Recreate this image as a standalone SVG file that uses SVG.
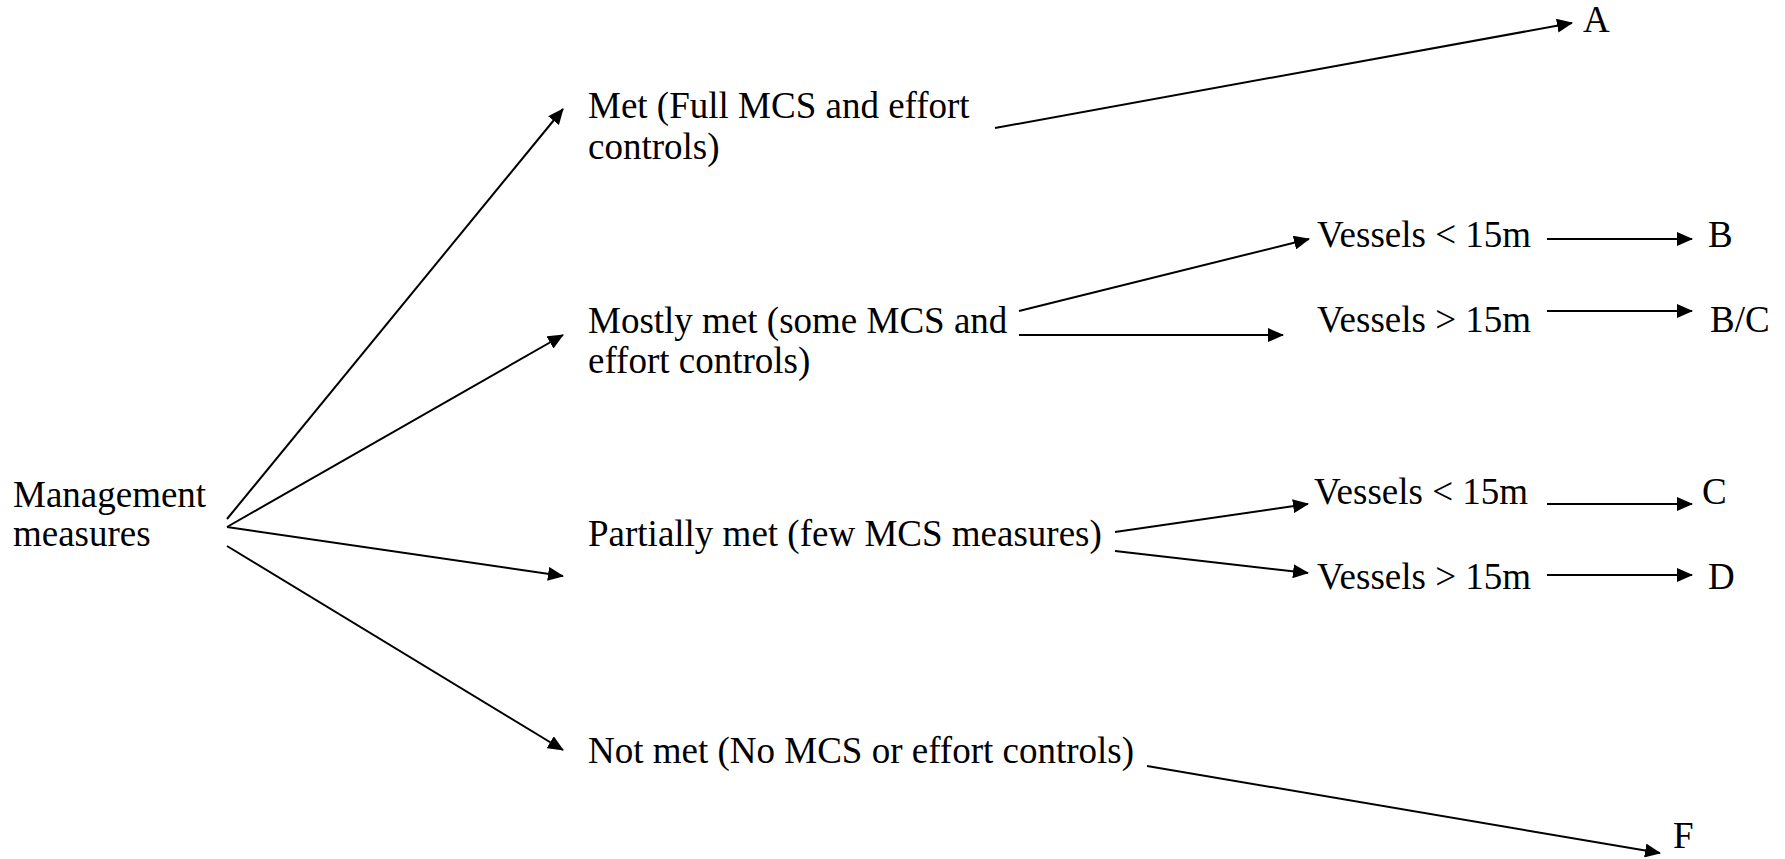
<svg xmlns="http://www.w3.org/2000/svg" width="1785" height="859" viewBox="0 0 1785 859">
<style>
.c line{stroke:#000;stroke-width:2;fill:none}
.a{marker-end:url(#ah)}
</style>
<defs>
<marker id="ah" markerUnits="userSpaceOnUse" markerWidth="16" markerHeight="14" refX="15" refY="7" orient="auto">
<path d="M0,0 L16,7 L0,14 z" fill="#000"/>
</marker>
</defs>
<rect width="1785" height="859" fill="#fff"/>
<g class="c" id="connectors">
<line class="a" x1="227" y1="519" x2="563" y2="109"/>
<line class="a" x1="227" y1="527" x2="563" y2="335"/>
<line class="a" x1="227" y1="527" x2="563" y2="576"/>
<line class="a" x1="227" y1="546" x2="563" y2="750"/>
<line class="a" x1="995" y1="128" x2="1572" y2="23"/>
<line class="a" x1="1019" y1="311" x2="1309" y2="239"/>
<line class="a" x1="1019" y1="335" x2="1283" y2="335"/>
<line class="a" x1="1547" y1="239" x2="1692" y2="239"/>
<line class="a" x1="1547" y1="311" x2="1692" y2="311"/>
<line class="a" x1="1115" y1="532" x2="1308" y2="504"/>
<line class="a" x1="1115" y1="551" x2="1308" y2="573"/>
<line class="a" x1="1547" y1="504" x2="1692" y2="504"/>
<line class="a" x1="1547" y1="575" x2="1692" y2="575"/>
<line class="a" x1="1147" y1="766" x2="1660" y2="853"/>
</g>
<g id="nodes" font-family="Liberation Serif" font-size="37" fill="#000">
<g id="root"><text x="13" y="507">Management</text><text x="13" y="546">measures</text></g>
<g id="met"><text x="588" y="118">Met (Full MCS and effort</text><text x="588" y="159">controls)</text></g>
<g id="mostly"><text x="588" y="333">Mostly met (some MCS and</text><text x="588" y="373">effort controls)</text></g>
<g id="partially"><text x="588" y="546">Partially met (few MCS measures)</text></g>
<g id="notmet"><text x="588" y="763">Not met (No MCS or effort controls)</text></g>
<g id="v1"><text x="1317" y="247">Vessels &lt; 15m</text></g>
<g id="v2"><text x="1317" y="332">Vessels &gt; 15m</text></g>
<g id="v3"><text x="1314" y="504">Vessels &lt; 15m</text></g>
<g id="v4"><text x="1317" y="589">Vessels &gt; 15m</text></g>
<g id="A"><text x="1583" y="32">A</text></g>
<g id="B"><text x="1708" y="247">B</text></g>
<g id="BC"><text x="1710" y="332">B/C</text></g>
<g id="C"><text x="1702" y="504">C</text></g>
<g id="D"><text x="1708" y="589">D</text></g>
<g id="F"><text x="1673" y="848">F</text></g>
</g>
</svg>
